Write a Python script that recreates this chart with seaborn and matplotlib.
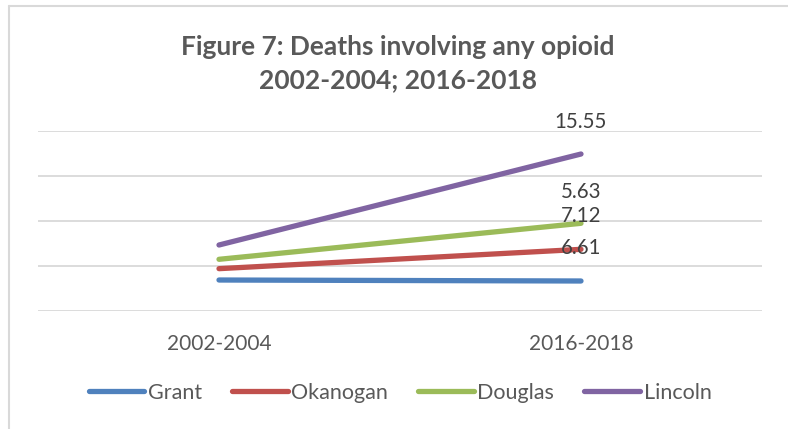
import pandas as pd
import matplotlib
matplotlib.use('Agg')
import matplotlib.pyplot as plt
import seaborn as sns

# Data
periods = ['2002-2004', '2016-2018']
counties = ['Grant', 'Okanogan', 'Douglas', 'Lincoln']
grant = [3.41, 3.30]
okanogan = [4.67, 6.82]
douglas = [5.71, 9.71]
lincoln = [7.30, 17.41]

# data labels as printed on the original (they sit at the right end)
label_texts = ['15.55', '5.63', '7.12', '6.61']
label_y = [20.97, 13.19, 10.52, 6.97]

colors = ['#4F81BD', '#C0504D', '#9BBB59', '#8064A2']
text_color = '#595959'

df = pd.DataFrame({
    'period': periods * 4,
    'county': [c for c in counties for _ in periods],
    'value': grant + okanogan + douglas + lincoln,
})

sns.set_style('white')
plt.rcParams['font.family'] = ['Lato', 'DejaVu Sans']

fig = plt.figure(figsize=(7.88, 4.29), dpi=100)
ax = fig.add_axes([38 / 788, 1 - 310.7 / 429, 724 / 788, 180 / 429])

sns.lineplot(data=df, x='period', y='value', hue='county', hue_order=counties,
             palette=colors, linewidth=3.8, ax=ax, sort=False)
for line in ax.get_lines():
    line.set_solid_capstyle('round')

ax.set_xlim(-0.5, 1.5)
ax.set_ylim(0, 20)
ax.set_yticks([0, 5, 10, 15, 20])
ax.set_yticklabels([])
ax.tick_params(axis='y', length=0)
ax.tick_params(axis='x', length=0, labelsize=15, colors=text_color, pad=17)
ax.grid(axis='y', color='#D9D9D9', linewidth=1.3)
ax.set_axisbelow(True)
ax.set_xlabel('')
ax.set_ylabel('')
for s in ax.spines.values():
    s.set_visible(False)

for t, y in zip(label_texts, label_y):
    ax.text(1, y, t, ha='center', va='center', fontsize=14.8, color='#404040')

ax.legend(loc='center', bbox_to_anchor=(0.5, 1 - (393 - 130.7) / 180),
          ncol=4, frameon=False, fontsize=15.5, handlelength=2.6, handletextpad=0.15,
          columnspacing=1.4, labelcolor=text_color)
leg = ax.get_legend()
for h in leg.get_lines():
    h.set_linewidth(3.8)
    h.set_solid_capstyle('round')

fig.text(0.505, 1 - 47 / 429, 'Figure 7: Deaths involving any opioid', ha='center', va='center',
         fontsize=19, fontweight='bold', color=text_color)
fig.text(0.505, 1 - 80 / 429, '2002-2004; 2016-2018', ha='center', va='center',
         fontsize=19, fontweight='bold', color=text_color)

# chart area border (top and left visible in the reference)
fig.add_artist(plt.Line2D([8.5 / 788, 1], [1 - 5.5 / 429, 1 - 5.5 / 429], color='#D9D9D9', linewidth=1.5))
fig.add_artist(plt.Line2D([8.5 / 788, 8.5 / 788], [0, 1 - 5.5 / 429], color='#D9D9D9', linewidth=1.5))

plt.savefig('out.png', dpi=100)
